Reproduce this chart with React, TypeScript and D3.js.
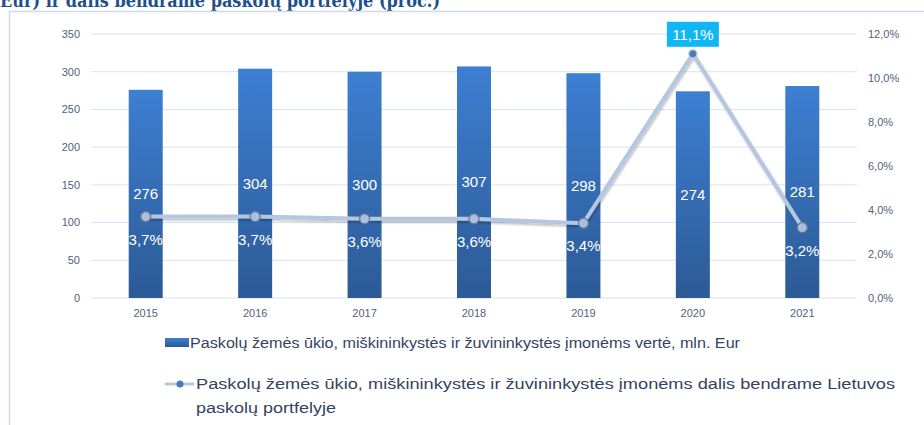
import * as d3 from "d3";
import { useEffect, useRef } from "react";

const years = ["2015", "2016", "2017", "2018", "2019", "2020", "2021"];
const loanValues = [276, 304, 300, 307, 298, 274, 281];
const loanShare = [3.7, 3.7, 3.6, 3.6, 3.4, 11.1, 3.2];
const leftTicks = [0, 50, 100, 150, 200, 250, 300, 350];
const rightTicks = [0, 2, 4, 6, 8, 10, 12];
const titleText = "Eur) ir dalis bendrame paskolų portfelyje (proc.)";
const legendBar = "Paskolų žemės ūkio, miškininkystės ir žuvininkystės įmonėms vertė, mln. Eur";
const legendLine1 = "Paskolų žemės ūkio, miškininkystės ir žuvininkystės įmonėms dalis bendrame Lietuvos";
const legendLine2 = "paskolų portfelyje";

const App = () => {
  const ref = useRef<SVGSVGElement>(null);

  useEffect(() => {
    const svg = d3.select(ref.current);
    svg.selectAll("*").remove();

    const width = 924;
    const height = 425;
    const left = 91;
    const right = 857;
    const top = 34;
    const bottom = 298;
    const font = "'Liberation Sans', Arial, sans-serif";
    const tickColor = "#52627e";

    svg.attr("width", width).attr("height", height);

    // Градиент для столбцов
    const defs = svg.append("defs");
    const grad = defs.append("linearGradient")
      .attr("id", "barGrad").attr("x1", 0).attr("y1", 0).attr("x2", 0).attr("y2", 1);
    grad.append("stop").attr("offset", "0%").attr("stop-color", "#3d7fd2");
    grad.append("stop").attr("offset", "100%").attr("stop-color", "#2c5a96");
    const shadow = defs.append("filter").attr("id", "lineShadow")
      .attr("x", "-10%").attr("y", "-10%").attr("width", "120%").attr("height", "130%");
    shadow.append("feDropShadow").attr("dx", 1).attr("dy", 2).attr("stdDeviation", 1.2)
      .attr("flood-color", "#000").attr("flood-opacity", 0.25);

    // Заголовок (обрезан сверху)
    svg.append("text")
      .attr("x", 0).attr("y", 7)
      .attr("font-family", "'DejaVu Serif', serif")
      .attr("font-weight", "bold")
      .attr("font-size", 19)
      .attr("fill", "#1f4e8c")
      .attr("textLength", 440)
      .attr("lengthAdjust", "spacingAndGlyphs")
      .text(titleText);

    // Рамка
    svg.append("path")
      .attr("d", `M9.5,${height} V11.5 H${width}`)
      .attr("fill", "none").attr("stroke", "#cfdcf0").attr("stroke-width", 1.5);

    const x = d3.scaleBand().domain(years).range([left, right]).padding(0);
    const yL = d3.scaleLinear().domain([0, 350]).range([bottom, top]);
    const yR = d3.scaleLinear().domain([0, 12]).range([bottom, top]);

    // Сетка
    svg.append("g").selectAll("line").data(leftTicks).enter().append("line")
      .attr("x1", left).attr("x2", right)
      .attr("y1", d => yL(d)).attr("y2", d => yL(d))
      .attr("stroke", "#d8e2f2").attr("stroke-width", 1);

    // Левая ось
    svg.append("g").selectAll("text").data(leftTicks).enter().append("text")
      .attr("x", 80).attr("y", d => yL(d)).attr("dy", "0.35em")
      .attr("text-anchor", "end")
      .attr("font-family", font).attr("font-size", 11).attr("fill", tickColor)
      .text(d => String(d));

    // Правая ось
    svg.append("g").selectAll("text").data(rightTicks).enter().append("text")
      .attr("x", 868).attr("y", d => yR(d)).attr("dy", "0.35em")
      .attr("font-family", font).attr("font-size", 11).attr("fill", tickColor)
      .text(d => d.toFixed(1).replace(".", ",") + "%");

    // Подписи годов
    svg.append("g").selectAll("text").data(years).enter().append("text")
      .attr("x", d => (x(d) as number) + x.bandwidth() / 2).attr("y", 313).attr("dy", "0.35em")
      .attr("text-anchor", "middle")
      .attr("font-family", font).attr("font-size", 11).attr("fill", tickColor)
      .text(d => d);

    const barW = 34;
    const cx = (i: number) => (x(years[i]) as number) + x.bandwidth() / 2;

    // Столбцы
    svg.append("g").selectAll("rect").data(loanValues).enter().append("rect")
      .attr("x", (d, i) => cx(i) - barW / 2)
      .attr("y", d => yL(d))
      .attr("width", barW)
      .attr("height", d => bottom - yL(d))
      .attr("fill", "url(#barGrad)");

    svg.append("g").selectAll("text").data(loanValues).enter().append("text")
      .attr("x", (d, i) => cx(i)).attr("y", d => yL(d / 2)).attr("dy", "0.35em")
      .attr("text-anchor", "middle")
      .attr("font-family", font).attr("font-size", 15).attr("fill", "#ffffff")
      .text(d => String(d));

    // Линия
    const line = d3.line<number>().x((d, i) => cx(i)).y(d => yR(d));
    svg.append("path").datum(loanShare)
      .attr("d", line)
      .attr("fill", "none").attr("stroke", "#b5c6e0").attr("stroke-width", 4)
      .attr("stroke-linejoin", "round")
      .attr("filter", "url(#lineShadow)");

    svg.append("g").selectAll("circle").data(loanShare).enter().append("circle")
      .attr("cx", (d, i) => cx(i)).attr("cy", d => yR(d))
      .attr("r", (d, i) => (i === 5 ? 4 : 5))
      .attr("fill", (d, i) => (i === 5 ? "#4a78b8" : "#a9bfe0"))
      .attr("stroke", (d, i) => (i === 5 ? "#b5c6e0" : "#6c7a90"))
      .attr("stroke-width", 1.3);

    // Подписи процентов
    const fmt = (v: number) => v.toFixed(1).replace(".", ",") + "%";
    loanShare.forEach((v, i) => {
      if (i === 5) {
        const g = svg.append("g");
        g.append("rect")
          .attr("x", cx(i) - 26).attr("y", yR(v) - 32)
          .attr("width", 52).attr("height", 25)
          .attr("fill", "#0fb8f5");
        g.append("text")
          .attr("x", cx(i)).attr("y", yR(v) - 19).attr("dy", "0.35em")
          .attr("text-anchor", "middle")
          .attr("font-family", font).attr("font-size", 15).attr("fill", "#ffffff")
          .text(fmt(v));
      } else {
        svg.append("text")
          .attr("x", cx(i)).attr("y", yR(v) + 23).attr("dy", "0.35em")
          .attr("text-anchor", "middle")
          .attr("font-family", font).attr("font-size", 15).attr("fill", "#ffffff")
          .text(fmt(v));
      }
    });

    // Легенда
    const legendColor = "#34425f";
    svg.append("rect")
      .attr("x", 165).attr("y", 338).attr("width", 24).attr("height", 9)
      .attr("fill", "url(#barGrad)");
    svg.append("text")
      .attr("x", 190).attr("y", 343).attr("dy", "0.35em")
      .attr("font-family", font).attr("font-size", 15.5).attr("fill", legendColor)
      .attr("textLength", 550).attr("lengthAdjust", "spacingAndGlyphs")
      .text(legendBar);

    svg.append("line")
      .attr("x1", 165).attr("x2", 194).attr("y1", 384).attr("y2", 384)
      .attr("stroke", "#b5c6e0").attr("stroke-width", 3);
    svg.append("circle")
      .attr("cx", 180).attr("cy", 384).attr("r", 3.5).attr("fill", "#4a78b8");
    svg.append("text")
      .attr("x", 196).attr("y", 384).attr("dy", "0.35em")
      .attr("font-family", font).attr("font-size", 15.5).attr("fill", legendColor)
      .attr("textLength", 699).attr("lengthAdjust", "spacingAndGlyphs")
      .text(legendLine1);
    svg.append("text")
      .attr("x", 196).attr("y", 408).attr("dy", "0.35em")
      .attr("font-family", font).attr("font-size", 15.5).attr("fill", legendColor)
      .attr("textLength", 140).attr("lengthAdjust", "spacingAndGlyphs")
      .text(legendLine2);
  }, []);

  return (
    <div style={{ position: "absolute", left: 0, top: 0, background: "#fff" }}>
      <svg ref={ref} width="924" height="425" style={{ display: "block" }}></svg>
    </div>
  );
};

export default App;
